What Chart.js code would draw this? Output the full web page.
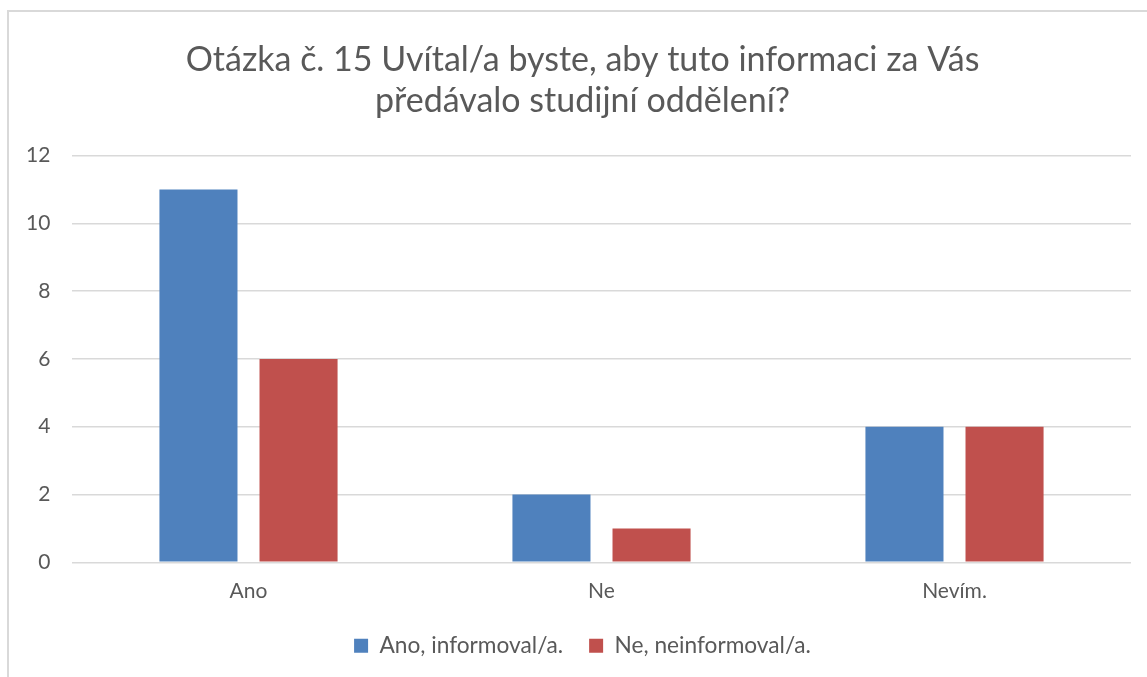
<!DOCTYPE html>
<html>
<head>
<meta charset="utf-8">
<script src="https://cdn.jsdelivr.net/npm/chart.js@4"></script>
<style>
  html, body { margin: 0; padding: 0; background: #fff; overflow: hidden; }
  .frame {
    position: absolute; left: 7px; top: 10px; width: 1200px; height: 700px;
    border-left: 2px solid #d9d9d9; border-top: 2px solid #d9d9d9;
  }
  .wrap { position: absolute; left: 0; top: 0; width: 1147px; height: 677px; }
</style>
</head>
<body>
<div class="frame"></div>
<div class="wrap"><canvas id="chart" width="1147" height="677"></canvas></div>
<script>
// ---- data ----
const categories = ['Ano', 'Ne', 'Nevím.'];
const informed   = [11, 2, 4];
const uninformed = [6, 1, 4];
const titleLines = ['Otázka č. 15 Uvítal/a byste, aby tuto informaci za Vás', 'předávalo studijní oddělení?'];

const textColor = '#595959';
const gridColor = '#d9d9d9';

Chart.defaults.font.family = 'Lato, "Open Sans", sans-serif';
Chart.defaults.color = textColor;

new Chart(document.getElementById('chart'), {
  type: 'bar',
  data: {
    labels: categories,
    datasets: [
      { label: 'Ano, informoval/a.', data: informed, backgroundColor: '#4f81bd' },
      { label: 'Ne, neinformoval/a.', data: uninformed, backgroundColor: '#c0504d' }
    ]
  },
  options: {
    responsive: false,
    animation: false,
    devicePixelRatio: 1,
    categoryPercentage: 0.567,
    barPercentage: 0.78,
    layout: { padding: { left: 34, right: 16, top: 14, bottom: 10 } },
    plugins: {
      title: {
        display: true,
        text: titleLines,
        color: textColor,
        font: { size: 34, weight: 'normal' },
        lineHeight: 1.27,
        padding: { top: 26, bottom: 34 }
      },
      legend: {
        position: 'bottom',
        labels: { boxWidth: 14, boxHeight: 14, padding: 26, font: { size: 22.7 }, color: textColor }
      },
      tooltip: { enabled: false }
    },
    scales: {
      x: {
        grid: { display: false, drawTicks: false },
        border: { display: false },
        ticks: { font: { size: 21 }, padding: 16, color: textColor },
        afterFit: (axis) => { axis.height = 46; }
      },
      y: {
        min: 0, max: 12,
        // mirrored so the labels are not clipped to the narrow axis box
        ticks: { stepSize: 2, font: { size: 21 }, mirror: true, crossAlign: 'far', padding: -46, color: textColor },
        grid: { color: gridColor, lineWidth: 1.5, drawTicks: false },
        border: { display: false },
        afterFit: (axis) => { axis.width = 38; }
      }
    }
  }
});
</script>
</body>
</html>
